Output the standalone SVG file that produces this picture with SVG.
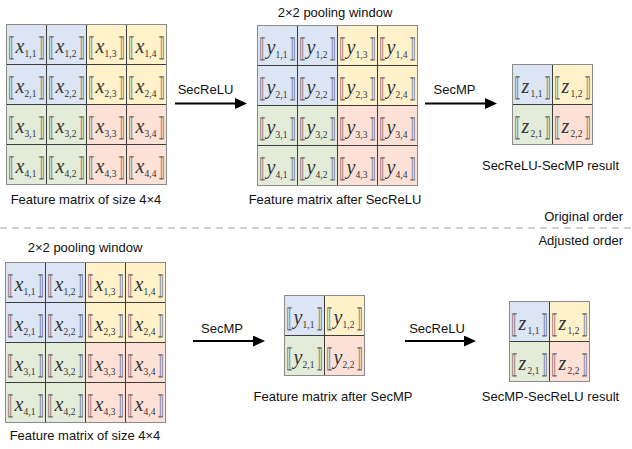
<svg xmlns="http://www.w3.org/2000/svg" width="632" height="449" viewBox="0 0 632 449">
<style>
.bl{fill:#dbe5f3}.ye{fill:#fff1ca}.gr{fill:#e3ebd9}.pk{fill:#fde1d6}
.grid{fill:none;stroke:#3c3c3c;stroke-width:1}
.frame{fill:none;stroke:#8a8a8a;stroke-width:1}
.lbl{font-family:"Liberation Sans",Arial,sans-serif;font-size:13px;fill:#111}
.mid{text-anchor:middle}.end{text-anchor:end}
.b{font-family:"DejaVu Serif",serif;font-size:26px;fill:#6a6a6a}
.v{font-family:"Liberation Serif","Times New Roman",serif;font-style:italic;font-size:20px;fill:#333}
.s{font-family:"Liberation Serif","Times New Roman",serif;font-style:normal;font-size:9.5px;fill:#333}
.arr{stroke:#000;stroke-width:2;fill:none;marker-end:url(#ah)}
.dash{stroke:#a0a0a0;stroke-width:1.2;stroke-dasharray:7 5}
</style>
<defs>
<marker id="ah" markerUnits="userSpaceOnUse" markerWidth="12" markerHeight="11" refX="4" refY="5.5" orient="auto">
<path d="M0,0 L12,5.5 L0,11 z" fill="#000"/>
</marker>
</defs>

<g id="matrix-x-top" transform="translate(6.5,24.5)">
<g transform="translate(0,0)"><rect class="bl" width="40" height="40"/><text class="b" transform="translate(1,31) scale(0.55,1)">⟦</text><text class="v" x="9" y="28">x<tspan class="s" x="18" y="32">1,1</tspan></text><text class="b" transform="translate(31,31) scale(0.55,1)">⟧</text></g>
<g transform="translate(40,0)"><rect class="bl" width="40" height="40"/><text class="b" transform="translate(1,31) scale(0.55,1)">⟦</text><text class="v" x="9" y="28">x<tspan class="s" x="18" y="32">1,2</tspan></text><text class="b" transform="translate(31,31) scale(0.55,1)">⟧</text></g>
<g transform="translate(80,0)"><rect class="ye" width="40" height="40"/><text class="b" transform="translate(1,31) scale(0.55,1)">⟦</text><text class="v" x="9" y="28">x<tspan class="s" x="18" y="32">1,3</tspan></text><text class="b" transform="translate(31,31) scale(0.55,1)">⟧</text></g>
<g transform="translate(120,0)"><rect class="ye" width="40" height="40"/><text class="b" transform="translate(1,31) scale(0.55,1)">⟦</text><text class="v" x="9" y="28">x<tspan class="s" x="18" y="32">1,4</tspan></text><text class="b" transform="translate(31,31) scale(0.55,1)">⟧</text></g>
<g transform="translate(0,40)"><rect class="bl" width="40" height="40"/><text class="b" transform="translate(1,31) scale(0.55,1)">⟦</text><text class="v" x="9" y="28">x<tspan class="s" x="18" y="32">2,1</tspan></text><text class="b" transform="translate(31,31) scale(0.55,1)">⟧</text></g>
<g transform="translate(40,40)"><rect class="bl" width="40" height="40"/><text class="b" transform="translate(1,31) scale(0.55,1)">⟦</text><text class="v" x="9" y="28">x<tspan class="s" x="18" y="32">2,2</tspan></text><text class="b" transform="translate(31,31) scale(0.55,1)">⟧</text></g>
<g transform="translate(80,40)"><rect class="ye" width="40" height="40"/><text class="b" transform="translate(1,31) scale(0.55,1)">⟦</text><text class="v" x="9" y="28">x<tspan class="s" x="18" y="32">2,3</tspan></text><text class="b" transform="translate(31,31) scale(0.55,1)">⟧</text></g>
<g transform="translate(120,40)"><rect class="ye" width="40" height="40"/><text class="b" transform="translate(1,31) scale(0.55,1)">⟦</text><text class="v" x="9" y="28">x<tspan class="s" x="18" y="32">2,4</tspan></text><text class="b" transform="translate(31,31) scale(0.55,1)">⟧</text></g>
<g transform="translate(0,80)"><rect class="gr" width="40" height="40"/><text class="b" transform="translate(1,31) scale(0.55,1)">⟦</text><text class="v" x="9" y="28">x<tspan class="s" x="18" y="32">3,1</tspan></text><text class="b" transform="translate(31,31) scale(0.55,1)">⟧</text></g>
<g transform="translate(40,80)"><rect class="gr" width="40" height="40"/><text class="b" transform="translate(1,31) scale(0.55,1)">⟦</text><text class="v" x="9" y="28">x<tspan class="s" x="18" y="32">3,2</tspan></text><text class="b" transform="translate(31,31) scale(0.55,1)">⟧</text></g>
<g transform="translate(80,80)"><rect class="pk" width="40" height="40"/><text class="b" transform="translate(1,31) scale(0.55,1)">⟦</text><text class="v" x="9" y="28">x<tspan class="s" x="18" y="32">3,3</tspan></text><text class="b" transform="translate(31,31) scale(0.55,1)">⟧</text></g>
<g transform="translate(120,80)"><rect class="pk" width="40" height="40"/><text class="b" transform="translate(1,31) scale(0.55,1)">⟦</text><text class="v" x="9" y="28">x<tspan class="s" x="18" y="32">3,4</tspan></text><text class="b" transform="translate(31,31) scale(0.55,1)">⟧</text></g>
<g transform="translate(0,120)"><rect class="gr" width="40" height="40"/><text class="b" transform="translate(1,31) scale(0.55,1)">⟦</text><text class="v" x="9" y="28">x<tspan class="s" x="18" y="32">4,1</tspan></text><text class="b" transform="translate(31,31) scale(0.55,1)">⟧</text></g>
<g transform="translate(40,120)"><rect class="gr" width="40" height="40"/><text class="b" transform="translate(1,31) scale(0.55,1)">⟦</text><text class="v" x="9" y="28">x<tspan class="s" x="18" y="32">4,2</tspan></text><text class="b" transform="translate(31,31) scale(0.55,1)">⟧</text></g>
<g transform="translate(80,120)"><rect class="pk" width="40" height="40"/><text class="b" transform="translate(1,31) scale(0.55,1)">⟦</text><text class="v" x="9" y="28">x<tspan class="s" x="18" y="32">4,3</tspan></text><text class="b" transform="translate(31,31) scale(0.55,1)">⟧</text></g>
<g transform="translate(120,120)"><rect class="pk" width="40" height="40"/><text class="b" transform="translate(1,31) scale(0.55,1)">⟦</text><text class="v" x="9" y="28">x<tspan class="s" x="18" y="32">4,4</tspan></text><text class="b" transform="translate(31,31) scale(0.55,1)">⟧</text></g>
<path class="grid" d="M40,0V160M80,0V160M120,0V160M0,40H160M0,80H160M0,120H160"/>
<rect class="frame" width="160" height="160"/>
</g>

<g id="matrix-y-top" transform="translate(257.5,25.5)">
<g transform="translate(0,0)"><rect class="bl" width="40" height="40"/><text class="b" transform="translate(1,31) scale(0.55,1)">⟦</text><text class="v" x="9" y="28">y<tspan class="s" x="18" y="32">1,1</tspan></text><text class="b" transform="translate(31,31) scale(0.55,1)">⟧</text></g>
<g transform="translate(40,0)"><rect class="bl" width="40" height="40"/><text class="b" transform="translate(1,31) scale(0.55,1)">⟦</text><text class="v" x="9" y="28">y<tspan class="s" x="18" y="32">1,2</tspan></text><text class="b" transform="translate(31,31) scale(0.55,1)">⟧</text></g>
<g transform="translate(80,0)"><rect class="ye" width="40" height="40"/><text class="b" transform="translate(1,31) scale(0.55,1)">⟦</text><text class="v" x="9" y="28">y<tspan class="s" x="18" y="32">1,3</tspan></text><text class="b" transform="translate(31,31) scale(0.55,1)">⟧</text></g>
<g transform="translate(120,0)"><rect class="ye" width="40" height="40"/><text class="b" transform="translate(1,31) scale(0.55,1)">⟦</text><text class="v" x="9" y="28">y<tspan class="s" x="18" y="32">1,4</tspan></text><text class="b" transform="translate(31,31) scale(0.55,1)">⟧</text></g>
<g transform="translate(0,40)"><rect class="bl" width="40" height="40"/><text class="b" transform="translate(1,31) scale(0.55,1)">⟦</text><text class="v" x="9" y="28">y<tspan class="s" x="18" y="32">2,1</tspan></text><text class="b" transform="translate(31,31) scale(0.55,1)">⟧</text></g>
<g transform="translate(40,40)"><rect class="bl" width="40" height="40"/><text class="b" transform="translate(1,31) scale(0.55,1)">⟦</text><text class="v" x="9" y="28">y<tspan class="s" x="18" y="32">2,2</tspan></text><text class="b" transform="translate(31,31) scale(0.55,1)">⟧</text></g>
<g transform="translate(80,40)"><rect class="ye" width="40" height="40"/><text class="b" transform="translate(1,31) scale(0.55,1)">⟦</text><text class="v" x="9" y="28">y<tspan class="s" x="18" y="32">2,3</tspan></text><text class="b" transform="translate(31,31) scale(0.55,1)">⟧</text></g>
<g transform="translate(120,40)"><rect class="ye" width="40" height="40"/><text class="b" transform="translate(1,31) scale(0.55,1)">⟦</text><text class="v" x="9" y="28">y<tspan class="s" x="18" y="32">2,4</tspan></text><text class="b" transform="translate(31,31) scale(0.55,1)">⟧</text></g>
<g transform="translate(0,80)"><rect class="gr" width="40" height="40"/><text class="b" transform="translate(1,31) scale(0.55,1)">⟦</text><text class="v" x="9" y="28">y<tspan class="s" x="18" y="32">3,1</tspan></text><text class="b" transform="translate(31,31) scale(0.55,1)">⟧</text></g>
<g transform="translate(40,80)"><rect class="gr" width="40" height="40"/><text class="b" transform="translate(1,31) scale(0.55,1)">⟦</text><text class="v" x="9" y="28">y<tspan class="s" x="18" y="32">3,2</tspan></text><text class="b" transform="translate(31,31) scale(0.55,1)">⟧</text></g>
<g transform="translate(80,80)"><rect class="pk" width="40" height="40"/><text class="b" transform="translate(1,31) scale(0.55,1)">⟦</text><text class="v" x="9" y="28">y<tspan class="s" x="18" y="32">3,3</tspan></text><text class="b" transform="translate(31,31) scale(0.55,1)">⟧</text></g>
<g transform="translate(120,80)"><rect class="pk" width="40" height="40"/><text class="b" transform="translate(1,31) scale(0.55,1)">⟦</text><text class="v" x="9" y="28">y<tspan class="s" x="18" y="32">3,4</tspan></text><text class="b" transform="translate(31,31) scale(0.55,1)">⟧</text></g>
<g transform="translate(0,120)"><rect class="gr" width="40" height="40"/><text class="b" transform="translate(1,31) scale(0.55,1)">⟦</text><text class="v" x="9" y="28">y<tspan class="s" x="18" y="32">4,1</tspan></text><text class="b" transform="translate(31,31) scale(0.55,1)">⟧</text></g>
<g transform="translate(40,120)"><rect class="gr" width="40" height="40"/><text class="b" transform="translate(1,31) scale(0.55,1)">⟦</text><text class="v" x="9" y="28">y<tspan class="s" x="18" y="32">4,2</tspan></text><text class="b" transform="translate(31,31) scale(0.55,1)">⟧</text></g>
<g transform="translate(80,120)"><rect class="pk" width="40" height="40"/><text class="b" transform="translate(1,31) scale(0.55,1)">⟦</text><text class="v" x="9" y="28">y<tspan class="s" x="18" y="32">4,3</tspan></text><text class="b" transform="translate(31,31) scale(0.55,1)">⟧</text></g>
<g transform="translate(120,120)"><rect class="pk" width="40" height="40"/><text class="b" transform="translate(1,31) scale(0.55,1)">⟦</text><text class="v" x="9" y="28">y<tspan class="s" x="18" y="32">4,4</tspan></text><text class="b" transform="translate(31,31) scale(0.55,1)">⟧</text></g>
<path class="grid" d="M40,0V160M80,0V160M120,0V160M0,40H160M0,80H160M0,120H160"/>
<rect class="frame" width="160" height="160"/>
</g>

<g id="matrix-z-top" transform="translate(512.5,64.5)">
<g transform="translate(0,0)"><rect class="bl" width="40" height="40"/><text class="b" transform="translate(1,31) scale(0.55,1)">⟦</text><text class="v" x="9" y="28">z<tspan class="s" x="18" y="32">1,1</tspan></text><text class="b" transform="translate(31,31) scale(0.55,1)">⟧</text></g>
<g transform="translate(40,0)"><rect class="ye" width="40" height="40"/><text class="b" transform="translate(1,31) scale(0.55,1)">⟦</text><text class="v" x="9" y="28">z<tspan class="s" x="18" y="32">1,2</tspan></text><text class="b" transform="translate(31,31) scale(0.55,1)">⟧</text></g>
<g transform="translate(0,40)"><rect class="gr" width="40" height="40"/><text class="b" transform="translate(1,31) scale(0.55,1)">⟦</text><text class="v" x="9" y="28">z<tspan class="s" x="18" y="32">2,1</tspan></text><text class="b" transform="translate(31,31) scale(0.55,1)">⟧</text></g>
<g transform="translate(40,40)"><rect class="pk" width="40" height="40"/><text class="b" transform="translate(1,31) scale(0.55,1)">⟦</text><text class="v" x="9" y="28">z<tspan class="s" x="18" y="32">2,2</tspan></text><text class="b" transform="translate(31,31) scale(0.55,1)">⟧</text></g>
<path class="grid" d="M40,0V80M0,40H80"/>
<rect class="frame" width="80" height="80"/>
</g>

<g id="matrix-x-bottom" transform="translate(5.5,262.5)">
<g transform="translate(0,0)"><rect class="bl" width="40" height="40"/><text class="b" transform="translate(1,31) scale(0.55,1)">⟦</text><text class="v" x="9" y="28">x<tspan class="s" x="18" y="32">1,1</tspan></text><text class="b" transform="translate(31,31) scale(0.55,1)">⟧</text></g>
<g transform="translate(40,0)"><rect class="bl" width="40" height="40"/><text class="b" transform="translate(1,31) scale(0.55,1)">⟦</text><text class="v" x="9" y="28">x<tspan class="s" x="18" y="32">1,2</tspan></text><text class="b" transform="translate(31,31) scale(0.55,1)">⟧</text></g>
<g transform="translate(80,0)"><rect class="ye" width="40" height="40"/><text class="b" transform="translate(1,31) scale(0.55,1)">⟦</text><text class="v" x="9" y="28">x<tspan class="s" x="18" y="32">1,3</tspan></text><text class="b" transform="translate(31,31) scale(0.55,1)">⟧</text></g>
<g transform="translate(120,0)"><rect class="ye" width="40" height="40"/><text class="b" transform="translate(1,31) scale(0.55,1)">⟦</text><text class="v" x="9" y="28">x<tspan class="s" x="18" y="32">1,4</tspan></text><text class="b" transform="translate(31,31) scale(0.55,1)">⟧</text></g>
<g transform="translate(0,40)"><rect class="bl" width="40" height="40"/><text class="b" transform="translate(1,31) scale(0.55,1)">⟦</text><text class="v" x="9" y="28">x<tspan class="s" x="18" y="32">2,1</tspan></text><text class="b" transform="translate(31,31) scale(0.55,1)">⟧</text></g>
<g transform="translate(40,40)"><rect class="bl" width="40" height="40"/><text class="b" transform="translate(1,31) scale(0.55,1)">⟦</text><text class="v" x="9" y="28">x<tspan class="s" x="18" y="32">2,2</tspan></text><text class="b" transform="translate(31,31) scale(0.55,1)">⟧</text></g>
<g transform="translate(80,40)"><rect class="ye" width="40" height="40"/><text class="b" transform="translate(1,31) scale(0.55,1)">⟦</text><text class="v" x="9" y="28">x<tspan class="s" x="18" y="32">2,3</tspan></text><text class="b" transform="translate(31,31) scale(0.55,1)">⟧</text></g>
<g transform="translate(120,40)"><rect class="ye" width="40" height="40"/><text class="b" transform="translate(1,31) scale(0.55,1)">⟦</text><text class="v" x="9" y="28">x<tspan class="s" x="18" y="32">2,4</tspan></text><text class="b" transform="translate(31,31) scale(0.55,1)">⟧</text></g>
<g transform="translate(0,80)"><rect class="gr" width="40" height="40"/><text class="b" transform="translate(1,31) scale(0.55,1)">⟦</text><text class="v" x="9" y="28">x<tspan class="s" x="18" y="32">3,1</tspan></text><text class="b" transform="translate(31,31) scale(0.55,1)">⟧</text></g>
<g transform="translate(40,80)"><rect class="gr" width="40" height="40"/><text class="b" transform="translate(1,31) scale(0.55,1)">⟦</text><text class="v" x="9" y="28">x<tspan class="s" x="18" y="32">3,2</tspan></text><text class="b" transform="translate(31,31) scale(0.55,1)">⟧</text></g>
<g transform="translate(80,80)"><rect class="pk" width="40" height="40"/><text class="b" transform="translate(1,31) scale(0.55,1)">⟦</text><text class="v" x="9" y="28">x<tspan class="s" x="18" y="32">3,3</tspan></text><text class="b" transform="translate(31,31) scale(0.55,1)">⟧</text></g>
<g transform="translate(120,80)"><rect class="pk" width="40" height="40"/><text class="b" transform="translate(1,31) scale(0.55,1)">⟦</text><text class="v" x="9" y="28">x<tspan class="s" x="18" y="32">3,4</tspan></text><text class="b" transform="translate(31,31) scale(0.55,1)">⟧</text></g>
<g transform="translate(0,120)"><rect class="gr" width="40" height="40"/><text class="b" transform="translate(1,31) scale(0.55,1)">⟦</text><text class="v" x="9" y="28">x<tspan class="s" x="18" y="32">4,1</tspan></text><text class="b" transform="translate(31,31) scale(0.55,1)">⟧</text></g>
<g transform="translate(40,120)"><rect class="gr" width="40" height="40"/><text class="b" transform="translate(1,31) scale(0.55,1)">⟦</text><text class="v" x="9" y="28">x<tspan class="s" x="18" y="32">4,2</tspan></text><text class="b" transform="translate(31,31) scale(0.55,1)">⟧</text></g>
<g transform="translate(80,120)"><rect class="pk" width="40" height="40"/><text class="b" transform="translate(1,31) scale(0.55,1)">⟦</text><text class="v" x="9" y="28">x<tspan class="s" x="18" y="32">4,3</tspan></text><text class="b" transform="translate(31,31) scale(0.55,1)">⟧</text></g>
<g transform="translate(120,120)"><rect class="pk" width="40" height="40"/><text class="b" transform="translate(1,31) scale(0.55,1)">⟦</text><text class="v" x="9" y="28">x<tspan class="s" x="18" y="32">4,4</tspan></text><text class="b" transform="translate(31,31) scale(0.55,1)">⟧</text></g>
<path class="grid" d="M40,0V160M80,0V160M120,0V160M0,40H160M0,80H160M0,120H160"/>
<rect class="frame" width="160" height="160"/>
</g>

<g id="matrix-y-bottom" transform="translate(284.5,295.5)">
<g transform="translate(0,0)"><rect class="bl" width="40" height="40"/><text class="b" transform="translate(1,31) scale(0.55,1)">⟦</text><text class="v" x="9" y="28">y<tspan class="s" x="18" y="32">1,1</tspan></text><text class="b" transform="translate(31,31) scale(0.55,1)">⟧</text></g>
<g transform="translate(40,0)"><rect class="ye" width="40" height="40"/><text class="b" transform="translate(1,31) scale(0.55,1)">⟦</text><text class="v" x="9" y="28">y<tspan class="s" x="18" y="32">1,2</tspan></text><text class="b" transform="translate(31,31) scale(0.55,1)">⟧</text></g>
<g transform="translate(0,40)"><rect class="gr" width="40" height="40"/><text class="b" transform="translate(1,31) scale(0.55,1)">⟦</text><text class="v" x="9" y="28">y<tspan class="s" x="18" y="32">2,1</tspan></text><text class="b" transform="translate(31,31) scale(0.55,1)">⟧</text></g>
<g transform="translate(40,40)"><rect class="pk" width="40" height="40"/><text class="b" transform="translate(1,31) scale(0.55,1)">⟦</text><text class="v" x="9" y="28">y<tspan class="s" x="18" y="32">2,2</tspan></text><text class="b" transform="translate(31,31) scale(0.55,1)">⟧</text></g>
<path class="grid" d="M40,0V80M0,40H80"/>
<rect class="frame" width="80" height="80"/>
</g>

<g id="matrix-z-bottom" transform="translate(509.5,301.5)">
<g transform="translate(0,0)"><rect class="bl" width="40" height="40"/><text class="b" transform="translate(1,31) scale(0.55,1)">⟦</text><text class="v" x="9" y="28">z<tspan class="s" x="18" y="32">1,1</tspan></text><text class="b" transform="translate(31,31) scale(0.55,1)">⟧</text></g>
<g transform="translate(40,0)"><rect class="ye" width="40" height="40"/><text class="b" transform="translate(1,31) scale(0.55,1)">⟦</text><text class="v" x="9" y="28">z<tspan class="s" x="18" y="32">1,2</tspan></text><text class="b" transform="translate(31,31) scale(0.55,1)">⟧</text></g>
<g transform="translate(0,40)"><rect class="gr" width="40" height="40"/><text class="b" transform="translate(1,31) scale(0.55,1)">⟦</text><text class="v" x="9" y="28">z<tspan class="s" x="18" y="32">2,1</tspan></text><text class="b" transform="translate(31,31) scale(0.55,1)">⟧</text></g>
<g transform="translate(40,40)"><rect class="pk" width="40" height="40"/><text class="b" transform="translate(1,31) scale(0.55,1)">⟦</text><text class="v" x="9" y="28">z<tspan class="s" x="18" y="32">2,2</tspan></text><text class="b" transform="translate(31,31) scale(0.55,1)">⟧</text></g>
<path class="grid" d="M40,0V80M0,40H80"/>
<rect class="frame" width="80" height="80"/>
</g>

<g id="connectors">
<line class="arr" x1="175" y1="103.5" x2="239" y2="103.5"/>
<line class="arr" x1="425" y1="103.5" x2="489" y2="103.5"/>
<line class="arr" x1="193" y1="341" x2="257" y2="341"/>
<line class="arr" x1="405" y1="341" x2="468" y2="341"/>
<line class="dash" x1="0" y1="228" x2="632" y2="228"/>
</g>

<g id="labels">
<text class="lbl mid" x="86" y="204">Feature matrix of size 4×4</text>
<text class="lbl mid" x="335" y="16.5">2×2 pooling window</text>
<text class="lbl mid" x="335" y="204">Feature matrix after SecReLU</text>
<text class="lbl mid" x="205.5" y="94">SecReLU</text>
<text class="lbl mid" x="454.5" y="94">SecMP</text>
<text class="lbl mid" x="550.5" y="170">SecReLU-SecMP result</text>
<text class="lbl end" x="623" y="220.5">Original order</text>
<text class="lbl end" x="623" y="245">Adjusted order</text>
<text class="lbl mid" x="85" y="252">2×2 pooling window</text>
<text class="lbl mid" x="85" y="440">Feature matrix of size 4×4</text>
<text class="lbl mid" x="222" y="333">SecMP</text>
<text class="lbl mid" x="437" y="333">SecReLU</text>
<text class="lbl mid" x="333" y="401">Feature matrix after SecMP</text>
<text class="lbl mid" x="550.5" y="401">SecMP-SecReLU result</text>
</g>
</svg>
